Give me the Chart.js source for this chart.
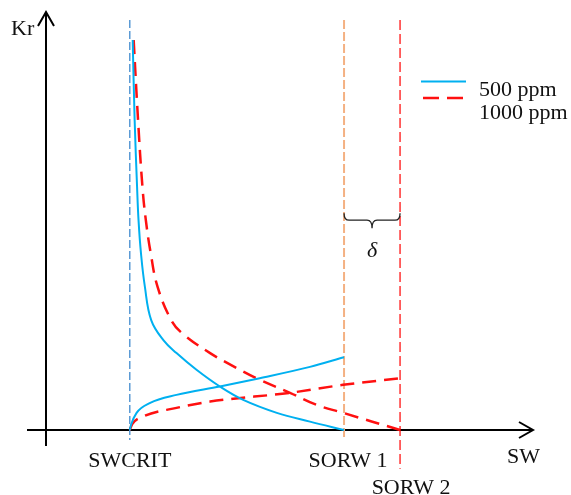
<!DOCTYPE html>
<html>
<head>
<meta charset="utf-8">
<script src="https://cdn.jsdelivr.net/npm/chart.js@4/dist/chart.umd.min.js"></script>
<style>
  html, body { margin: 0; padding: 0; background: #fff; }
  #wrap { width: 571px; height: 495px; }
</style>
</head>
<body>
<div id="wrap"><canvas id="kr-chart"></canvas></div>
<script>
// end points on the SW axis
const swCrit = 0.172;
const sorw1 = 0.612;
const sorw2 = 0.727;

// oil curves (decreasing)
const kro500Sw = [0.178, 0.182, 0.187, 0.190, 0.195, 0.203, 0.216, 0.241, 0.268, 0.309, 0.357, 0.405, 0.474, 0.542, 0.612];
const kro500 = [0.933, 0.742, 0.582, 0.502, 0.423, 0.343, 0.263, 0.215, 0.184, 0.144, 0.104, 0.072, 0.041, 0.020, 0];
const kro1000Sw = [0.180, 0.189, 0.198, 0.205, 0.215, 0.229, 0.257, 0.279, 0.337, 0.392, 0.439, 0.501, 0.556, 0.610, 0.727];
const kro1000 = [0.933, 0.742, 0.582, 0.502, 0.423, 0.343, 0.263, 0.232, 0.184, 0.148, 0.120, 0.089, 0.060, 0.041, 0];

// water curves (increasing)
const krw500Sw = [0.172, 0.1745, 0.186, 0.214, 0.268, 0.357, 0.439, 0.542, 0.612];
const krw500 = [0, 0.012, 0.041, 0.065, 0.084, 0.104, 0.124, 0.151, 0.174];
const krw1000Sw = [0.172, 0.177, 0.199, 0.268, 0.337, 0.501, 0.610, 0.727];
const krw1000 = [0, 0.014, 0.032, 0.053, 0.068, 0.089, 0.108, 0.124];

const seriesLabels = ['500 ppm', '1000 ppm'];
const xLabels = ['SWCRIT', 'SORW 1', 'SORW 2'];

const BLUE = '#00b0f0';
const RED = '#ff1010';
const FONT = '"Liberation Serif", "Times New Roman", serif';

const pts = (xs, ys) => xs.map((x, i) => ({ x, y: ys[i] }));

const curve = (label, xs, ys, color, dash, smooth) => ({
  label,
  data: pts(xs, ys),
  borderColor: color,
  borderWidth: dash ? 2.5 : 2,
  borderDash: dash || [],
  pointRadius: 0,
  tension: smooth ? 0.4 : 0,
  cubicInterpolationMode: smooth ? 'default' : 'monotone',
  fill: false,
  clip: false
});

const vline = (x, top, bottom, color, width, dash) => ({
  data: [{ x, y: top }, { x, y: bottom }],
  borderColor: color,
  borderWidth: width,
  borderDash: dash,
  pointRadius: 0,
  fill: false,
  clip: false
});

// axes with arrows, labels, legend and the delta brace
const decor = {
  id: 'decor',
  beforeDatasetsDraw(chart) {
    const { ctx, scales: { x, y } } = chart;
    const x0 = x.getPixelForValue(0), y0 = y.getPixelForValue(0);
    const xEnd = x.getPixelForValue(1), yEnd = y.getPixelForValue(1);
    ctx.save();
    ctx.strokeStyle = '#000';
    ctx.lineWidth = 2;
    ctx.beginPath();
    ctx.moveTo(x0 - 19, y0); ctx.lineTo(xEnd, y0);
    ctx.moveTo(x0, y0 + 16); ctx.lineTo(x0, yEnd);
    ctx.stroke();
    ctx.beginPath();
    ctx.moveTo(xEnd - 14, y0 - 8); ctx.lineTo(xEnd, y0); ctx.lineTo(xEnd - 14, y0 + 8);
    ctx.moveTo(x0 - 8, yEnd + 14); ctx.lineTo(x0, yEnd); ctx.lineTo(x0 + 8, yEnd + 14);
    ctx.stroke();
    ctx.restore();
  },
  afterDraw(chart) {
    const { ctx, scales: { x, y } } = chart;
    const y0 = y.getPixelForValue(0);
    ctx.save();
    ctx.fillStyle = '#111';
    ctx.font = '22px ' + FONT;
    ctx.textBaseline = 'alphabetic';

    ctx.textAlign = 'left';
    ctx.fillText('Kr', 11, 35);
    ctx.fillText('SW', 507, y0 + 33);

    ctx.textAlign = 'center';
    ctx.fillText(xLabels[0], x.getPixelForValue(swCrit), y0 + 37);
    ctx.fillText(xLabels[1], x.getPixelForValue(sorw1) + 4, y0 + 37);
    ctx.fillText(xLabels[2], x.getPixelForValue(sorw2) + 11, y0 + 64);

    // legend
    const lx = 421, ly = 81.5;
    ctx.lineWidth = 2;
    ctx.strokeStyle = BLUE;
    ctx.beginPath(); ctx.moveTo(lx, ly); ctx.lineTo(lx + 45, ly); ctx.stroke();
    ctx.lineWidth = 2.5;
    ctx.strokeStyle = RED;
    ctx.setLineDash([16, 8]);
    ctx.beginPath(); ctx.moveTo(lx + 2, ly + 16.5); ctx.lineTo(lx + 42, ly + 16.5); ctx.stroke();
    ctx.setLineDash([]);
    ctx.textAlign = 'left';
    ctx.fillText(seriesLabels[0], 479, 96);
    ctx.fillText(seriesLabels[1], 479, 119);

    // brace between the two residual oil lines
    const bx0 = x.getPixelForValue(sorw1), bx1 = x.getPixelForValue(sorw2);
    const bm = y.getPixelForValue(0.502);
    const bc = (bx0 + bx1) / 2, r = 5;
    ctx.strokeStyle = '#222';
    ctx.lineWidth = 1.3;
    ctx.beginPath();
    ctx.moveTo(bx0, bm - 7);
    ctx.quadraticCurveTo(bx0, bm, bx0 + r, bm);
    ctx.lineTo(bc - r, bm);
    ctx.quadraticCurveTo(bc, bm, bc, bm + 8);
    ctx.quadraticCurveTo(bc, bm, bc + r, bm);
    ctx.lineTo(bx1 - r, bm);
    ctx.quadraticCurveTo(bx1, bm, bx1, bm - 7);
    ctx.stroke();
    ctx.font = 'italic 22px ' + FONT;
    ctx.textAlign = 'center';
    ctx.fillText('δ', bc, bm + 37);
    ctx.restore();
  }
};

new Chart(document.getElementById('kr-chart'), {
  type: 'line',
  data: {
    datasets: [
      curve(seriesLabels[0], kro500Sw, kro500, BLUE, null, true),
      curve(seriesLabels[0], krw500Sw, krw500, BLUE),
      curve(seriesLabels[1], kro1000Sw, kro1000, RED, [14, 8], true),
      curve(seriesLabels[1], krw1000Sw, krw1000, RED, [14, 8]),
      vline(swCrit, 0.981, -0.024, '#5b9bd5', 1.5, [8, 3]),
      vline(sorw1, 0.981, -0.024, '#f4b183', 2, [9, 3]),
      vline(sorw2, 0.981, -0.093, '#ff0000', 1.2, [10, 4])
    ]
  },
  options: {
    responsive: true,
    maintainAspectRatio: false,
    animation: false,
    layout: { padding: { left: 46, right: 38, top: 12, bottom: 65 } },
    scales: {
      x: { type: 'linear', min: 0, max: 1, display: false },
      y: { min: 0, max: 1, display: false }
    },
    plugins: {
      legend: { display: false },
      tooltip: { enabled: false }
    }
  },
  plugins: [decor]
});
</script>
</body>
</html>
